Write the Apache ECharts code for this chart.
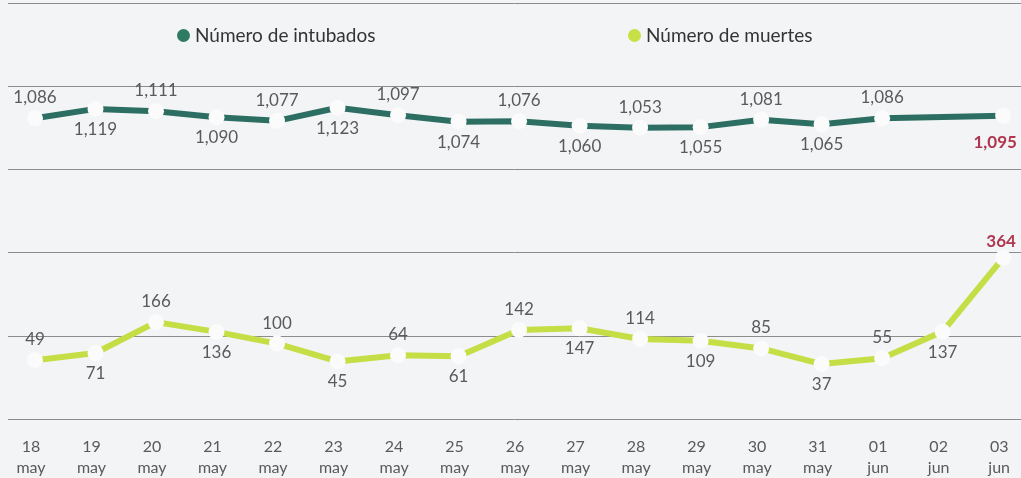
<!DOCTYPE html>
<html>
<head>
<meta charset="utf-8">
<script src="https://cdn.jsdelivr.net/npm/echarts@6/dist/echarts.min.js"></script>
<style>
html,body{margin:0;padding:0;background:#f3f4f6;}
#c{width:1021px;height:478px;}
</style>
</head>
<body>
<div id="c"></div>
<script>
const categories = ['18\nmay','19\nmay','20\nmay','21\nmay','22\nmay','23\nmay','24\nmay','25\nmay','26\nmay','27\nmay','28\nmay','29\nmay','30\nmay','31\nmay','01\njun','02\njun','03\njun'];
const intubados = [1086,1119,1111,1090,1077,1123,1097,1074,1076,1060,1053,1055,1081,1065,1086,null,1095];
const muertes = [49,71,166,136,100,45,64,61,142,147,114,109,85,37,55,137,364];

const fmt = v => v.toLocaleString('en-US');
const TXT = '#5a5a5a', RED = '#b0364f';
const FONT = 'Lato';
const C_INT = '#2d6e63', C_MUE = '#c6de45';

function buildData(vals, lastPos, lastOffset) {
  const out = [];
  let k = 0;
  vals.forEach((v, i) => {
    if (v === null) { out.push(null); return; }
    const last = i === vals.length - 1;
    const pos = last ? lastPos : (k % 2 === 0 ? 'top' : 'bottom');
    k++;
    out.push({
      value: v,
      label: last ? {position: pos, color: RED, fontWeight: 'bold', offset: lastOffset} : {position: pos}
    });
  });
  return out;
}

const chart = echarts.init(document.getElementById('c'));
chart.setOption({
  backgroundColor: '#f3f4f6',
  animation: false,
  textStyle: {fontFamily: FONT},
  legend: [
    {data: [{name: 'Número de intubados', itemStyle: {color: '#2f7a62'}}], left: 172, top: 21, icon: 'circle', itemWidth: 13, itemHeight: 13, itemGap: 4,
     textStyle: {fontSize: 19, color: '#333', fontFamily: FONT}},
    {data: [{name: 'Número de muertes', itemStyle: {color: '#c6e045'}}], left: 623, top: 21, icon: 'circle', itemWidth: 13, itemHeight: 13, itemGap: 4,
     textStyle: {fontSize: 19, color: '#333', fontFamily: FONT}}
  ],
  grid: [
    {left: 35, right: 13, top: 3, height: 416},
    {left: 8, right: 0, top: 3, height: 416}
  ],
  xAxis: [
    {type: 'category', gridIndex: 0, data: categories, boundaryGap: false,
     axisLine: {show: false}, axisTick: {show: false}, splitLine: {show: false},
     axisLabel: {interval: 0, margin: 18, fontSize: 16, lineHeight: 21, color: TXT, fontFamily: FONT, padding: [0, 8, 0, 0]}},
    {type: 'value', gridIndex: 1, min: 0, max: 1, show: false}
  ],
  yAxis: [
    {type: 'value', gridIndex: 0, min: -129, max: 1148, show: false},
    {type: 'value', gridIndex: 0, min: 34.5, max: 1490.5, show: false},
    {type: 'value', gridIndex: 1, min: 0, max: 5, interval: 1,
     axisLine: {show: false}, axisTick: {show: false}, axisLabel: {show: false},
     splitLine: {show: true, lineStyle: {color: '#8c8c8c', width: 1}}}
  ],
  series: [
    {name: 'Número de intubados', type: 'line', xAxisIndex: 0, yAxisIndex: 1, z: 3,
     data: buildData(intubados, 'bottom', [-8, 6]), connectNulls: true,
     color: C_INT,
     lineStyle: {width: 6, color: C_INT},
     symbol: 'circle', symbolSize: 16, showAllSymbol: true,
     itemStyle: {color: '#fbfbfb', borderWidth: 0},
     label: {show: true, distance: 4, formatter: p => fmt(p.value), fontSize: 17, color: TXT, fontFamily: FONT}},
    {name: 'Número de muertes', type: 'line', xAxisIndex: 0, yAxisIndex: 0, z: 3,
     data: buildData(muertes, 'top', [-2, 4]),
     color: C_MUE,
     lineStyle: {width: 6, color: C_MUE},
     symbol: 'circle', symbolSize: 16, showAllSymbol: true,
     itemStyle: {color: '#fbfbfb', borderWidth: 0},
     label: {show: true, distance: 4, formatter: p => fmt(p.value), fontSize: 17, color: TXT, fontFamily: FONT}}
  ]
});
</script>
</body>
</html>
